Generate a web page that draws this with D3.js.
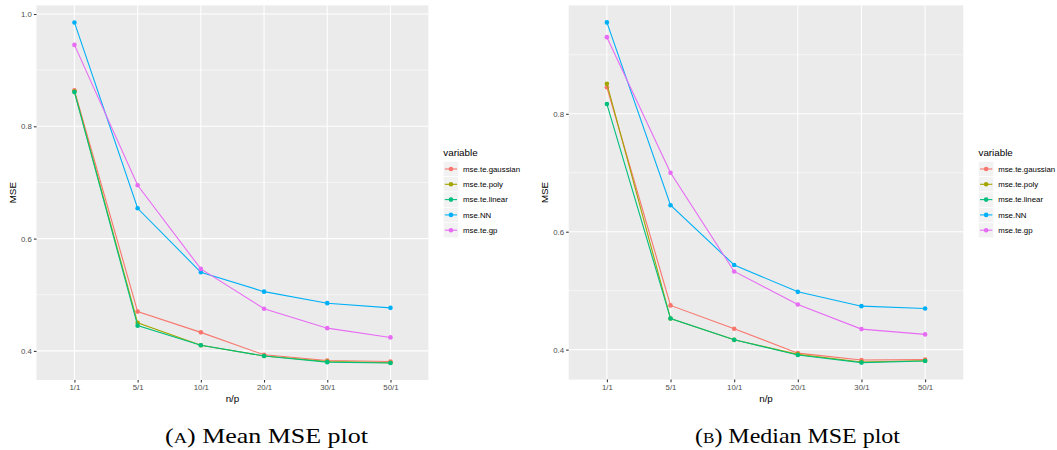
<!DOCTYPE html>
<html>
<head>
<meta charset="UTF-8">
<script src="https://d3js.org/d3.v7.min.js"></script>
<style>
body { margin: 0; background: white; }
svg { display: block; }
</style>
</head>
<body>
<svg width="1057" height="450"></svg>
<script>
// x categories (n/p)
const ratios = ["1/1", "5/1", "10/1", "20/1", "30/1", "50/1"];
const seriesNames = ["mse.te.gaussian", "mse.te.poly", "mse.te.linear", "mse.NN", "mse.te.gp"];
const seriesColors = ["#F8766D", "#A3A500", "#00BF7D", "#00B0F6", "#E76BF3"];

// mean MSE
const meanGaussian = [0.864, 0.470, 0.433, 0.393, 0.383, 0.381];
const meanPoly     = [0.862, 0.450, 0.410, 0.391, 0.381, 0.379];
const meanLinear   = [0.861, 0.445, 0.410, 0.391, 0.380, 0.3785];
const meanNN       = [0.985, 0.654, 0.540, 0.5055, 0.485, 0.4767];
const meanGP       = [0.945, 0.695, 0.546, 0.475, 0.4405, 0.424];

// median MSE
const medGaussian = [0.845, 0.475, 0.4355, 0.394, 0.3823, 0.383];
const medPoly     = [0.851, 0.4527, 0.4166, 0.392, 0.379, 0.381];
const medLinear   = [0.8165, 0.4527, 0.4166, 0.391, 0.378, 0.3806];
const medNN       = [0.955, 0.645, 0.5435, 0.498, 0.4737, 0.4698];
const medGP       = [0.930, 0.700, 0.5326, 0.4766, 0.4348, 0.4258];

const meanTicks = [0.4, 0.6, 0.8, 1.0];
const medTicks = [0.4, 0.6, 0.8];

const svg = d3.select("svg");
const font = "'Liberation Sans', Arial, Helvetica, sans-serif";

function drawPanel(p) {
  const g = svg.append("g");
  const x = d3.scalePoint().domain(ratios).range([p.x0, p.x1]).padding(0.6);
  const all = p.series.flat();
  const lo = d3.min(all), hi = d3.max(all), ex = (hi - lo) * 0.05;
  const y = d3.scaleLinear().domain([lo - ex, hi + ex]).range([p.y1, p.y0]);

  g.append("rect").attr("x", p.x0).attr("y", p.y0)
    .attr("width", p.x1 - p.x0).attr("height", p.y1 - p.y0)
    .attr("fill", "#EBEBEB");

  // minor grid
  const minor = d3.range(0.3, 1.05, 0.2).filter(v => v > lo - ex && v < hi + ex);
  g.selectAll(".minor").data(minor).join("line")
    .attr("x1", p.x0).attr("x2", p.x1)
    .attr("y1", d => y(d)).attr("y2", d => y(d))
    .attr("stroke", "white").attr("stroke-width", 0.55);

  g.selectAll(".hmaj").data(p.ticks).join("line")
    .attr("x1", p.x0).attr("x2", p.x1)
    .attr("y1", d => y(d)).attr("y2", d => y(d))
    .attr("stroke", "white").attr("stroke-width", 1.07);

  g.selectAll(".vmaj").data(ratios).join("line")
    .attr("x1", d => x(d)).attr("x2", d => x(d))
    .attr("y1", p.y0).attr("y2", p.y1)
    .attr("stroke", "white").attr("stroke-width", 1.07);

  // axes
  const ya = g.append("g").attr("transform", `translate(${p.x0},0)`)
    .call(d3.axisLeft(y).tickValues(p.ticks).tickFormat(d3.format(".1f")).tickSize(2.6).tickPadding(2));
  const xa = g.append("g").attr("transform", `translate(0,${p.y1})`)
    .call(d3.axisBottom(x).tickSize(2.6).tickPadding(2));
  [ya, xa].forEach(a => {
    a.select(".domain").remove();
    a.selectAll(".tick line").attr("stroke", "#333333").attr("stroke-width", 1.07);
    a.selectAll("text").attr("fill", "#4D4D4D").style("font-family", font).style("font-size", "7.84px");
  });

  // lines and points
  const line = d3.line().x((d, i) => x(ratios[i])).y(d => y(d));
  p.series.forEach((s, k) => {
    g.append("path").datum(s).attr("d", line)
      .attr("fill", "none").attr("stroke", seriesColors[k]).attr("stroke-width", 1.1);
    g.selectAll(null).data(s).join("circle")
      .attr("cx", (d, i) => x(ratios[i])).attr("cy", d => y(d))
      .attr("r", 2.3).attr("fill", seriesColors[k]);
  });

  // axis titles
  g.append("text").attr("x", (p.x0 + p.x1) / 2).attr("y", 402)
    .attr("text-anchor", "middle").style("font-family", font).style("font-size", "9.8px")
    .text("n/p");
  g.append("text").attr("transform", `translate(${p.x0 - 21},${(p.y0 + p.y1) / 2}) rotate(-90)`)
    .attr("text-anchor", "middle").style("font-family", font).style("font-size", "9.8px")
    .text("MSE");

  // legend
  const lg = g.append("g");
  lg.append("text").attr("x", p.lx).attr("y", 156).style("font-family", font).style("font-size", "9.8px")
    .text("variable");
  const ks = 15.3;
  seriesNames.forEach((nm, k) => {
    const cy = 169 + k * ks;
    lg.append("rect").attr("x", p.lx).attr("y", cy - ks / 2).attr("width", ks).attr("height", ks)
      .attr("fill", "#F2F2F2").attr("stroke", "white").attr("stroke-width", 0.6);
    lg.append("line").attr("x1", p.lx + 1.5).attr("x2", p.lx + ks - 1.5).attr("y1", cy).attr("y2", cy)
      .attr("stroke", seriesColors[k]).attr("stroke-width", 1.1);
    lg.append("circle").attr("cx", p.lx + ks / 2).attr("cy", cy).attr("r", 2.3).attr("fill", seriesColors[k]);
    lg.append("text").attr("x", p.lx + ks + 4.4).attr("y", cy).attr("dy", "0.35em")
      .style("font-family", font).style("font-size", "7.84px").text(nm);
  });

  // caption
  const cap = g.append("text").attr("x", p.cx).attr("y", 443).attr("text-anchor", "middle")
    .style("font-family", "'Liberation Serif', 'DejaVu Serif', serif").style("font-size", "21px");
  cap.append("tspan").text("(");
  cap.append("tspan").style("font-size", "15px").text(p.letter);
  cap.append("tspan").text(") " + p.caption);
  const w = cap.node().getComputedTextLength();
  cap.attr("textLength", p.capWidth).attr("lengthAdjust", "spacingAndGlyphs");
}

drawPanel({
  x0: 36.5, x1: 428.4, y0: 5.4, y1: 380,
  series: [meanGaussian, meanPoly, meanLinear, meanNN, meanGP],
  ticks: meanTicks, lx: 443.3, cx: 266.5, letter: "A", caption: "Mean MSE plot", capWidth: 203
});
drawPanel({
  x0: 568.7, x1: 963.3, y0: 5.4, y1: 379.6,
  series: [medGaussian, medPoly, medLinear, medNN, medGP],
  ticks: medTicks, lx: 978.5, cx: 797.5, letter: "B", caption: "Median MSE plot", capWidth: 205
});
</script>
</body>
</html>
